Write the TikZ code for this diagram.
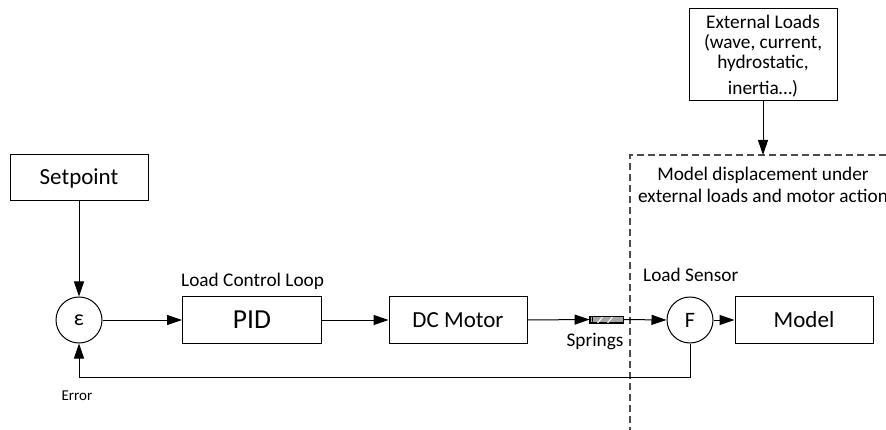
\documentclass[tikz,border=0pt]{standalone}
\usepackage{fontspec}
\setmainfont{Carlito}
\usetikzlibrary{arrows.meta}
\begin{document}
\begin{tikzpicture}[x=1pt,y=-1pt,
  blk/.style={draw,line width=1pt,minimum width=138pt,minimum height=46pt,inner sep=0pt,font=\fontsize{23}{26}\selectfont},
  sum/.style={draw,circle,line width=1pt,minimum size=46pt,inner sep=0pt,font=\fontsize{22}{24}\selectfont},
  lbl/.style={inner sep=0pt,font=\fontsize{19.3}{22}\selectfont},
  arr/.style={line width=1pt,-{Triangle[length=15pt,width=10pt]}},
  dsh/.style={line width=1.2pt,draw=black!70,dash pattern=on 7pt off 4pt}]
\useasboundingbox (0,0) rectangle (886,430);
\node[blk] (setpoint) at (79,178) {Setpoint};
\node[sum] (eps) at (79,320) {ε};
\node[blk,minimum width=139pt,font=\fontsize{27.5}{30}\selectfont] (pid) at (252,320) {PID};
\node[blk] (motor) at (458,320) {DC Motor};
\node[draw,line width=0.8pt,fill=black!35,minimum width=33pt,minimum height=6pt,inner sep=0pt] (spring) at (606.5,319.5) {};
\node[sum] (F) at (690,320) {F};
\node[blk] (model) at (804,320) {Model};
\node[draw,line width=1pt,minimum width=148pt,minimum height=92pt,inner sep=0pt] (ext) at (763,55) {};
\node[lbl,align=center,font=\fontsize{19.3}{20}\selectfont] (extt) at (763,43) {External Loads\\(wave, current,\\hydrostatic,};
\node[lbl] (extt2) at (763,89) {inertia…)};
\node[lbl,align=center] (mdl) at (763,185) {Model displacement under\\external loads and motor action};
\node[lbl,anchor=west] (lcl) at (181,281) {Load Control Loop};
\node[lbl,anchor=west] (ls) at (643,275) {Load Sensor};
\node[lbl] (spr) at (595,342) {Springs};
\node[inner sep=0pt,font=\fontsize{15}{18}\selectfont] (err) at (77,396) {Error};
% spring details
\draw[white,line width=1pt] ([xshift=8pt]spring.south west) -- ++(5,-6);
\draw[white,line width=1pt] ([xshift=18pt]spring.south west) -- ++(5,-6);
\draw[line width=0.6pt] ([xshift=3pt]spring.south west) -- ([xshift=3pt]spring.north west);
\draw[line width=0.8pt] (spring.south west) rectangle (spring.north east);
% dashed boundary
\coordinate (dtop) at (763,155);
\coordinate (dcorner) at (630,155);
\coordinate (dright) at (886,155);
\coordinate (dbottom) at (630,430);
\draw[dsh] (dright) -- (dcorner) -- (dbottom);
% connectors
\draw[arr] (setpoint) -- (eps);
\draw[arr] (eps) -- (pid);
\draw[arr] (pid) -- (motor);
\draw[arr] (motor.east) -- (spring.west);
\draw[arr] (spring.east) -- (F.west);
\draw[arr] (F) -- (model);
\draw[arr] (ext) -- (dtop);
\draw[arr] (F.south) -- ++(0,34) -| (eps.south);
\end{tikzpicture}
\end{document}
